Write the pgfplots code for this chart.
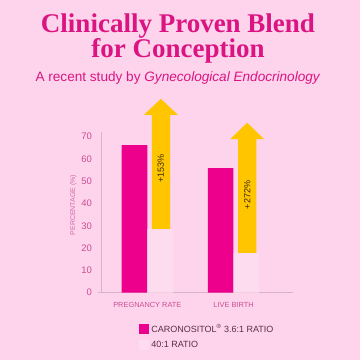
\documentclass[border=0pt]{standalone}
\usepackage{pgfplots}
\pgfplotsset{compat=1.18}
\usepackage{fontspec}
\setmainfont{Liberation Sans}
\newfontfamily\titlefont{Liberation Serif}
\definecolor{bgpink}{HTML}{FDD4EC}
\definecolor{titlemag}{HTML}{DC1482}
\definecolor{barmag}{HTML}{EC008C}
\definecolor{faintbar}{HTML}{FEDCF0}
\definecolor{arrowyel}{HTML}{FFC600}
\definecolor{ticklab}{HTML}{CC4E93}
\definecolor{ylab}{HTML}{D56BA6}
\definecolor{axisgray}{HTML}{D9B4C8}
\definecolor{legtext}{HTML}{5A2D4B}
\definecolor{arrtext}{HTML}{3B2A00}
\begin{document}
\begin{tikzpicture}
\fill[bgpink] (0pt,0pt) rectangle (360pt,360pt);
\node[anchor=base, font=\titlefont\bfseries\fontsize{27}{30}\selectfont, text=titlemag, inner sep=0pt] at (178pt,327pt) {Clinically Proven Blend};
\node[anchor=base, font=\titlefont\bfseries\fontsize{27}{30}\selectfont, text=titlemag, inner sep=0pt] at (178pt,302pt) {for Conception};
\node[anchor=base, font=\fontsize{13.6}{16}\selectfont, text=titlemag, inner sep=0pt] at (178pt,278.3pt) {A recent study by \textit{Gynecological Endocrinology}};
\begin{axis}[
  at={(101.7pt,67.3pt)}, anchor=south west,
  scale only axis, width=191.3pt, height=160.6pt,
  xmin=-0.53, xmax=1.69, ymin=0, ymax=72,
  clip=false,
  axis x line=bottom, axis y line=left,
  axis line style={draw=axisgray, line width=0.6pt, -},
  tick style={draw=none},
  ytick={0,10,...,70},
  xtick={0,1},
  xticklabels={PREGNANCY RATE, LIVE BIRTH},
  yticklabel style={font=\fontsize{9.5}{11}\selectfont, text=ticklab, xshift=-4pt},
  xticklabel style={font=\fontsize{7.4}{9}\selectfont, text=ticklab, yshift=-4pt},
  /pgf/number format/assume math mode=true,
  legend style={draw=none, fill=none, at={(0.18,-0.172)}, anchor=north west,
    font=\fontsize{9}{11}\selectfont, text=legtext, row sep=3pt,
    legend cell align=left},
  legend image code/.code={\fill[#1] (0pt,-5pt) rectangle (10pt,5pt);},
]
\addplot[ybar, bar width=0.297, bar shift=-0.149, fill=barmag, draw=none] coordinates {(0,66.2) (1,55.8)};
\addplot[ybar, bar width=0.297, bar shift=0.149, fill=faintbar, draw=none] coordinates {(0,28.6) (1,17.8)};
\legend{CARONOSITOL\textsuperscript{®} 3.6:1 RATIO, 40:1 RATIO}
\addplot[fill=arrowyel, draw=none, forget plot] coordinates {(0.051,28.6) (0.051,79.7) (-0.041,79.7) (0.157,86.9) (0.355,79.7) (0.263,79.7) (0.263,28.6)};
\addplot[fill=arrowyel, draw=none, forget plot] coordinates {(1.052,17.8) (1.052,68.8) (0.960,68.8) (1.158,76.2) (1.356,68.8) (1.264,68.8) (1.264,17.8)};
\node[rotate=90, font=\fontsize{9}{11}\selectfont, text=arrtext] at (axis cs:0.157,55.8) {+153\%};
\node[rotate=90, font=\fontsize{9}{11}\selectfont, text=arrtext] at (axis cs:1.158,43.8) {+272\%};
\node[rotate=90, font=\fontsize{7}{8}\selectfont, text=ylab] at (axis description cs:-0.148,0.546) {PERCENTAGE (\%)};
\draw[axisgray, line width=0.6pt] (axis cs:-0.53,0) -- ++(-4pt,0pt);
\end{axis}
\end{tikzpicture}
\end{document}
